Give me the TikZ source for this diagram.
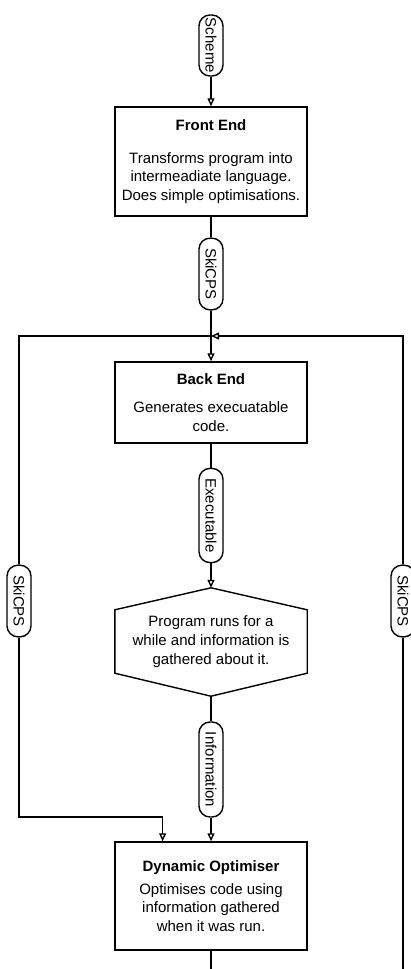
\documentclass[tikz,border=0pt]{standalone}
\usepackage{fontspec}
\setmainfont{Liberation Sans}
\usetikzlibrary{arrows.meta,calc}

\tikzset{
  >={Triangle[open,length=8pt,width=7pt]},
  line/.style={line width=1.4pt},
  box/.style={draw, line width=1.5pt, minimum width=192pt, inner sep=0pt,
    align=center, font=\fontsize{15}{18.5}\selectfont},
  pill/.style={draw, line width=1.4pt, rounded corners=11pt, rotate=-90,
    minimum height=24pt, inner xsep=10pt, inner ysep=0pt, fill=white,
    font=\fontsize{15}{17}\selectfont}
}

\begin{document}
\begin{tikzpicture}[x=1pt,y=-1pt]
  \useasboundingbox (0,0) rectangle (410,969);

  \node[pill, inner xsep=3pt] (scheme) at (211,45.5) {Scheme};
  \node[box, minimum height=109pt] (front) at (211,161.5)
    {\textbf{Front End}\\[14pt]Transforms program into\\intermeadiate language.\\Does simple optimisations.};
  \node[pill] (ski1) at (211,274) {SkiCPS};
  \coordinate (join) at (211,336);
  \node[box, minimum height=81pt] (back) at (211,402.5)
    {\textbf{Back End}\\[10pt]Generates execuatable\\code.};
  \node[pill] (exe) at (211,515.5) {Executable};
  \node[minimum width=192pt, minimum height=108pt, inner sep=0pt, align=center,
    font=\fontsize{15}{19}\selectfont] (run) at (211,642)
    {Program runs for a\\while and information is\\gathered about it.};
  \node[pill] (info) at (211,769.5) {Information};
  \node[box, minimum height=108pt] (opt) at (211,896)
    {\textbf{Dynamic Optimiser}\\[4pt]Optimises code using\\information gathered\\when it was run.};
  \node[pill] (ski2) at (19,601) {SkiCPS};
  \node[pill] (ski3) at (403,601) {SkiCPS};

  \coordinate (lefttop) at (19,336);
  \coordinate (leftbot) at (19,817);
  \coordinate (righttop) at (403,336);
  \coordinate (rightbot) at (403,969);
  \coordinate (optbot) at (211,969);
  \coordinate (optin) at ($(opt.north west)!0.25!(opt.north east)$);

  % hexagon round the run node
  \draw[line] (run.north) -- ($(run.north east)+(0,22)$) -- ($(run.south east)+(0,-23)$)
    -- (run.south) -- ($(run.south west)+(0,-23)$) -- ($(run.north west)+(0,22)$) -- cycle;

  \draw[line,->] (scheme.east) -- (front.north);
  \draw[line] (front.south) -- (ski1.west);
  \draw[line,->] (ski1.east) -- (back.north);
  \draw[line] (back.south) -- (exe.west);
  \draw[line,->] (exe.east) -- (run.north);
  \draw[line] (run.south) -- (info.west);
  \draw[line,->] (info.east) -- (opt.north);
  \draw[line] (opt.south) -- (optbot);

  \draw[line] (join) -- (lefttop) -- (ski2.west);
  \draw[line,->] (ski2.east) -- (leftbot) -| (optin);

  \draw[line] (rightbot) -- (ski3.east);
  \draw[line,->] (ski3.west) -- (righttop) -- (join);

\end{tikzpicture}
\end{document}
